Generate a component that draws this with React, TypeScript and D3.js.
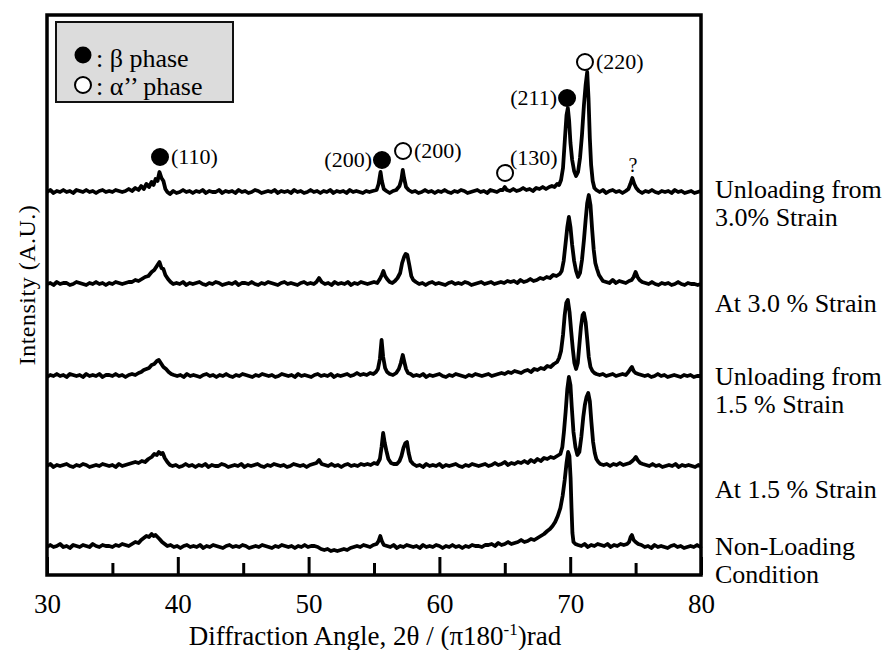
import React, { useEffect, useRef } from 'react';
import * as d3 from 'd3';

type Pt = [number, number];

// uniform 0.25 deg runs of read-off intensities
const run = (start: number, vals: number[]): Pt[] => vals.map((v, i) => [start + i * 0.25, v]);

const unload30: Pt[] = [
  ...run(30, [1, 3, 0, 2, 1, 3, 1, 2, 0, 3, 2, 1, 3, 1, 2, 0, 2, 3, 1, 2, 1, 3, 2, 1]),
  [36, 2], [36.25, 4], [36.5, 2], [36.75, 5], [37, 3], [37.2, 7], [37.4, 4], [37.6, 9], [37.8, 6], [38, 11], [38.15, 8],
  [38.3, 14], [38.45, 12], [38.6, 21], [38.75, 15], [38.9, 12], [39.05, 4], [39.2, 1], [39.4, -1],
  ...run(39.65, [2, 0, 1, 3, 1, 2, 0, 2, 1, 3, 0, 2, 1, 1, 3, 0, 2, 1, 2, 0, 3, 1, 2, 0, 1, 3, 2, 0, 1, 2, 1, 3, 0, 2, 1, 2, 0, 3, 1, 2, 0, 1, 3, 1, 2, 0, 2, 1, 3, 0, 2, 1, 2, 0, 3, 1, 2, 1, 0, 2, 1, 2]),
  [55.2, 3], [55.35, 9], [55.5, 21], [55.6, 12], [55.75, 4], [55.95, 2], [56.2, 0], [56.45, 2], [56.7, 3], [56.95, 7],
  [57.1, 14], [57.2, 23], [57.3, 15], [57.45, 6], [57.65, 3], [57.9, 1],
  ...run(58.15, [2, 0, 1, 3, 1, 2, 0, 2, 1, 3, 1, 0, 2, 1, 3, 2, 0, 1, 2, 3, 1, 2, 0, 3, 2, 1, 3]),
  [64.85, 3], [65.0, 6], [65.15, 3],
  ...run(65.4, [2, 4, 2, 3, 5, 3, 4, 2, 5, 4, 6, 4, 6]),
  [68.6, 7], [68.8, 6], [69.0, 9], [69.15, 8], [69.3, 13], [69.45, 25], [69.6, 55], [69.72, 78], [69.82, 85], [69.92, 72],
  [70.02, 50], [70.15, 33], [70.3, 22], [70.45, 17], [70.6, 21], [70.75, 35], [70.9, 58], [71.05, 88], [71.18, 108],
  [71.3, 121], [71.4, 95], [71.5, 55], [71.6, 28], [71.72, 12], [71.85, 5], [72.0, 3],
  ...run(72.25, [1, 3, 0, 2, 3, 1, 2, 0, 2]),
  [74.45, 4], [74.6, 9], [74.75, 15], [74.9, 9], [75.05, 5], [75.25, 2],
  ...run(75.5, [0, 2, 1, 3, 1, 0, 2, 1, 2, 0, 3, 1, 2, 0, 1, 2, 0, 1, 2]),
];

const at30: Pt[] = [
  ...run(30, [1, 2, 0, 3, 1, 2, 2, 0, 1, 3, 2, 1, 0, 2, 1, 3, 1, 2, 0, 2, 1, 3, 2, 1, 2, 3]),
  [36.5, 3], [36.75, 5], [37, 4], [37.25, 6], [37.5, 8], [37.75, 9], [38, 13], [38.2, 15], [38.4, 19], [38.6, 23],
  [38.75, 17], [38.9, 16], [39.05, 10], [39.25, 6], [39.45, 3], [39.65, 1],
  ...run(39.9, [2, 1, 3, 0, 2, 1, 2, 3, 1, 0, 2, 1, 3, 2, 0, 1, 2, 1, 3, 0, 2, 2, 1, 3, 1, 0, 2, 1, 3, 2, 1, 0, 2, 3, 1, 2, 1, 0, 2, 3, 1, 2, 1]),
  [50.6, 3], [50.8, 7], [51.0, 3],
  ...run(51.25, [1, 2, 0, 3, 1, 2, 1, 3, 0, 2, 1, 3, 2, 1, 2, 3, 2]),
  [55.45, 6], [55.6, 10], [55.72, 14], [55.85, 9], [56.0, 6], [56.2, 3], [56.4, 2], [56.6, 4], [56.8, 7], [57.0, 12],
  [57.15, 22], [57.3, 28], [57.42, 31], [57.55, 30], [57.7, 20], [57.85, 9], [58.0, 5], [58.2, 3],
  ...run(58.45, [1, 2, 0, 2, 3, 1, 2, 1, 0, 2, 3, 1, 2, 1, 3, 2, 0, 1, 2, 3, 1, 2, 3, 1, 2, 3, 2, 4]),
  ...run(65.45, [3, 4, 2, 5, 3, 4, 6, 4, 5, 7, 6, 8, 7, 10, 9, 11]),
  [69.35, 14], [69.5, 24], [69.65, 42], [69.78, 58], [69.9, 68], [70.02, 58], [70.15, 40], [70.3, 24], [70.45, 14],
  [70.6, 8], [70.75, 12], [70.9, 25], [71.05, 45], [71.18, 65], [71.3, 82], [71.42, 90], [71.55, 80], [71.68, 55],
  [71.8, 35], [71.92, 22], [72.05, 16], [72.2, 10], [72.35, 7], [72.5, 4],
  ...run(72.75, [3, 2, 5, 2, 4, 3, 2, 4]),
  [74.7, 5], [74.85, 8], [75.0, 13], [75.15, 8], [75.3, 5], [75.5, 3],
  ...run(75.75, [2, 1, 3, 1, 0, 2, 1, 2, 0, 1, 3, 1, 0, 2, 1, 1, 0, 1]),
];

const unload15: Pt[] = [
  ...run(30, [0, 2, 1, 3, 1, 2, 0, 3, 2, 1, 2, 0, 3, 1, 2, 1, 3, 0, 2, 2, 1, 3, 1, 2, 0, 2, 3, 2]),
  [37, 4], [37.2, 5], [37.4, 7], [37.6, 8], [37.8, 9], [38, 12], [38.2, 13], [38.4, 16], [38.55, 17], [38.7, 14],
  [38.9, 10], [39.1, 8], [39.3, 5], [39.5, 3], [39.7, 2],
  ...run(39.95, [1, 2, 0, 3, 1, 2, 1, 0, 2, 3, 1, 2, 0, 2, 1, 3, 1, 0, 2, 1, 3, 2, 1, 0, 2, 1, 3, 2, 1, 2, 0, 1, 3, 2, 1, 2, 0, 3, 1, 2, 1, 0, 2, 3, 1, 2, 1, 3, 0, 2, 1, 2, 3, 1, 2, 4, 2, 3, 2, 4, 3]),
  [55.15, 5], [55.3, 8], [55.45, 18], [55.58, 37], [55.7, 20], [55.85, 9], [56.0, 5], [56.2, 3], [56.45, 2], [56.7, 4],
  [56.9, 8], [57.05, 14], [57.2, 22], [57.32, 15], [57.45, 8], [57.6, 4], [57.8, 3], [58.0, 1],
  ...run(58.25, [2, 1, 3, 0, 2, 1, 2, 3, 1, 0, 2, 1, 3, 2, 1, 0, 2, 1, 3, 2, 1, 2, 3, 1, 2]),
  ...run(64.5, [3, 4, 3, 5, 4, 6, 5, 4, 6, 7, 5, 8, 7, 9, 8, 11, 10, 13, 15]),
  [69.15, 19], [69.3, 26], [69.45, 42], [69.58, 62], [69.7, 74], [69.82, 77], [69.95, 65], [70.08, 45], [70.2, 28],
  [70.32, 14], [70.45, 8], [70.58, 14], [70.7, 32], [70.82, 50], [70.95, 62], [71.05, 64], [71.18, 55], [71.3, 38],
  [71.42, 20], [71.55, 10], [71.7, 6], [71.85, 4], [72.0, 3],
  ...run(72.25, [2, 3, 1, 2, 3, 1, 2, 3, 2]),
  [74.45, 5], [74.6, 8], [74.72, 10], [74.85, 6], [75.0, 4], [75.2, 3],
  ...run(75.45, [2, 1, 2, 0, 1, 3, 1, 2, 0, 1, 2, 1, 0, 2, 1, 2, 0, 1, 1]),
  [80, 1],
];

const at15: Pt[] = [
  ...run(30, [1, 3, 0, 2, 1, 2, 3, 1, 0, 2, 1, 3, 2, 0, 1, 2, 1, 3, 2, 1, 2, 0, 3, 1, 2, 3, 4]),
  [36.75, 5], [37, 4], [37.25, 6], [37.5, 5], [37.75, 8], [38, 10], [38.2, 13], [38.4, 12], [38.55, 15], [38.7, 13],
  [38.85, 14], [39.0, 9], [39.2, 5], [39.4, 2], [39.6, 1],
  ...run(39.85, [2, 0, 1, 3, 1, 2, 0, 2, 1, 3, 0, 2, 1, 1, 3, 2, 0, 1, 2, 1, 3, 0, 2, 1, 2, 3, 1, 0, 2, 1, 3, 2, 1, 2, 0, 1, 3, 2, 1, 2, 0, 2, 3]),
  [50.6, 4], [50.8, 7], [51.0, 3],
  ...run(51.25, [2, 1, 3, 1, 2, 0, 2, 3, 1, 2, 1, 3, 2, 3, 2, 4, 3]),
  [55.45, 8], [55.58, 20], [55.7, 34], [55.82, 24], [55.95, 16], [56.1, 8], [56.3, 4], [56.5, 3], [56.75, 3],
  [56.95, 6], [57.1, 11], [57.25, 19], [57.4, 24], [57.52, 25], [57.65, 14], [57.8, 6], [58.0, 3],
  ...run(58.25, [1, 2, 0, 3, 1, 2, 1, 3, 0, 2, 1, 2, 3, 1, 0, 2, 1, 3, 2, 1, 2, 3, 1, 2, 4, 2, 3, 5, 2, 4, 3, 5, 4, 6, 4, 7, 5]),
  ...run(67.5, [8, 6, 9, 8, 10, 9, 11, 13]),
  [69.4, 20], [69.52, 35], [69.65, 55], [69.78, 78], [69.9, 90], [70.02, 82], [70.12, 60], [70.25, 35], [70.4, 20],
  [70.55, 12], [70.7, 15], [70.85, 30], [71.0, 50], [71.12, 62], [71.25, 70], [71.38, 74], [71.5, 66], [71.62, 45],
  [71.75, 25], [71.88, 14], [72.0, 8], [72.15, 5], [72.3, 3],
  ...run(72.55, [2, 3, 1, 3, 2, 4, 2, 3, 4]),
  [74.75, 6], [74.9, 8], [75.02, 10], [75.15, 7], [75.35, 4], [75.55, 3],
  ...run(75.8, [2, 1, 3, 1, 2, 0, 1, 2, 1, 3, 0, 2, 1, 2, 1, 0, 2]),
  [80, 1],
];

const nonLoad: Pt[] = [
  ...run(30, [1, 3, 1, 2, 4, 1, 2, 0, 3, 2, 1, 3, 2, 1, 4, 2, 1, 3, 2, 2, 1, 3, 2, 4, 3, 2, 4]),
  [36.75, 6], [37, 5], [37.2, 8], [37.4, 10], [37.6, 12], [37.8, 11], [38, 14], [38.15, 12], [38.3, 13], [38.45, 11],
  [38.6, 9], [38.8, 6], [39.0, 4], [39.2, 2], [39.45, 3],
  ...run(39.7, [1, 2, 0, 2, 3, 1, 2, 1, 3, 0, 2, 1, 3, 2, 1, 0, 2, 3, 1, 2, 1, 3, 2, 0, 1, 2, 1, 3, 2, 1, 0, 2, 1, 3, 2, 1, 2, 0, 2, 1, 3, 1, 2, 2, 1]),
  ...run(50.95, [-1, -2, -1, -3, -2, -3, -2, -1, -2, 0, 1]),
  ...run(53.7, [2, 1, 3, 2, 1, 3, 4]),
  [55.35, 7], [55.48, 12], [55.6, 7], [55.75, 3], [56.0, 2],
  ...run(56.25, [1, 3, 0, 2, 1, 3, 2, 1, 2, 0, 3, 1, 2, 1, 3, 2, 0, 2, 1, 3, 1, 2, 0, 2, 1, 3, 2, 2, 1, 3]),
  ...run(63.75, [3, 4, 2, 5, 3, 4, 6, 4, 5, 6, 8, 6, 7, 9, 8, 10, 12, 14, 17]),
  [68.45, 19], [68.65, 22], [68.85, 26], [69.05, 32], [69.25, 40], [69.42, 52], [69.58, 68], [69.72, 85], [69.84, 96],
  [69.94, 92], [70.03, 70], [70.1, 40], [70.17, 15], [70.25, 6], [70.4, 4], [70.6, 3],
  ...run(70.85, [2, 4, 1, 3, 2, 4, 3, 2, 4, 1, 3, 2, 4, 3, 4]),
  [74.5, 6], [74.62, 11], [74.72, 13], [74.85, 8], [75.0, 6], [75.2, 4],
  ...run(75.45, [3, 1, 2, 0, 3, 1, 2, 1, 0, 2, 3, 1, 2, 0, 1, 2, 1, 3, 1]),
  [80, 2],
];

const traces = [
  { data: unload30, offset: 382, label: ['Unloading from', '3.0% Strain'] },
  { data: at30, offset: 290, label: ['At 3.0 % Strain'] },
  { data: unload15, offset: 198, label: ['Unloading from', '1.5 % Strain'] },
  { data: at15, offset: 108, label: ['At 1.5 % Strain'] },
  { data: nonLoad, offset: 27, label: ['Non-Loading', 'Condition'] },
];

// label baselines (in A.U. units of the y scale)
const labelLevels = [377, 263, 190, 77, 20];

const majorTicks = [30, 40, 50, 60, 70, 80];
const minorTicks = [35, 45, 55, 65, 75];

// peak markers: angle, level, filled, label, side
const markers = [
  { a: 38.64, v: 418, filled: true, text: '(110)', side: 'right' },
  { a: 55.61, v: 415, filled: true, text: '(200)', side: 'left' },
  { a: 57.22, v: 424, filled: false, text: '(200)', side: 'right' },
  { a: 65.02, v: 402, filled: false, text: '(130)', side: 'upright' },
  { a: 69.76, v: 477, filled: true, text: '(211)', side: 'left' },
  { a: 71.13, v: 513, filled: false, text: '(220)', side: 'right' },
];
const questionMark = { a: 74.8, v: 403 };

const FONT = "'Liberation Serif', 'Times New Roman', serif";

const App: React.FC = () => {
  const axisRef = useRef<SVGGElement>(null);

  const width = 894;
  const height = 650;
  const x = d3.scaleLinear().domain([30, 80]).range([47, 701]);
  const y = d3.scaleLinear().domain([0, 560]).range([575, 15]);

  useEffect(() => {
    if (!axisRef.current) return;
    const g = d3.select(axisRef.current);
    g.selectAll('*').remove();

    const major = g.append('g').call(
      d3.axisBottom(x).tickValues(majorTicks).tickSize(-18).tickPadding(19).tickFormat(d3.format('d'))
    );
    const minor = g.append('g').call(
      d3.axisBottom(x).tickValues(minorTicks).tickSize(-12).tickFormat(() => '')
    );
    [major, minor].forEach((ax) => {
      ax.select('.domain').remove();
      ax.selectAll('line').attr('stroke', '#000').attr('stroke-width', 3);
    });
    major.selectAll('text').attr('font-family', FONT).attr('font-size', 27).attr('fill', '#000');
  }, []);

  return (
    <svg width={width} height={height} style={{ position: 'absolute', left: 0, top: 0, background: '#fff' }}>
      <rect width={width} height={height} fill="#fff" />
      {traces.map((t, i) => {
        const line = d3
          .line<Pt>()
          .x((d) => x(d[0]))
          .y((d) => y(d[1] + t.offset));
        return (
          <path key={i} d={line(t.data) || ''} fill="none" stroke="#000" strokeWidth={3.8} strokeLinejoin="round" />
        );
      })}

      <g ref={axisRef} transform={`translate(0,575)`} />

      <rect x={47} y={15} width={654} height={560} fill="none" stroke="#000" strokeWidth={3.5} />

      {/* legend */}
      <rect x={56} y={22} width={177} height={80} fill="#dcdcdc" stroke="#111" strokeWidth={2} />
      <circle cx={83} cy={55} r={8.5} fill="#000" />
      <text x={96} y={67} fontFamily={FONT} fontSize={26}>: β phase</text>
      <circle cx={83} cy={85} r={8} fill="#fff" stroke="#000" strokeWidth={2} />
      <text x={96} y={95} fontFamily={FONT} fontSize={26}>: α’’ phase</text>

      {/* peak markers */}
      {markers.map((m, i) => {
        const cx = x(m.a);
        const cy = y(m.v);
        let tx = cx + 11;
        let ty = cy + 7;
        let anchor = 'start';
        if (m.side === 'left') {
          tx = cx - 10;
          anchor = 'end';
        } else if (m.side === 'upright') {
          tx = cx + 5;
          ty = cy - 8;
        }
        return (
          <g key={i}>
            <circle cx={cx} cy={cy} r={8} fill={m.filled ? '#000' : '#fff'} stroke="#000" strokeWidth={2} />
            <text x={tx} y={ty} textAnchor={anchor} fontFamily={FONT} fontSize={22}>
              {m.text}
            </text>
          </g>
        );
      })}
      <text x={x(questionMark.a)} y={y(questionMark.v)} textAnchor="middle" fontFamily={FONT} fontSize={20}>
        ?
      </text>

      {/* condition labels */}
      {traces.map((t, i) => (
        <text key={i} x={715} y={y(labelLevels[i])} fontFamily={FONT} fontSize={26}>
          {t.label.map((s, j) => (
            <tspan key={j} x={715} dy={j === 0 ? 0 : 28}>
              {s}
            </tspan>
          ))}
        </text>
      ))}

      {/* axis titles */}
      <text x={375} y={645} textAnchor="middle" fontFamily={FONT} fontSize={27}>
        Diffraction Angle, 2θ / (π180
        <tspan dy={-10} fontSize={17}>-1</tspan>
        <tspan dy={10}>)rad</tspan>
      </text>
      <text
        transform={`translate(35,285) rotate(-90)`}
        textAnchor="middle"
        fontFamily={FONT}
        fontSize={24}
        letterSpacing={0.5}
      >
        Intensity  (A.U.)
      </text>
    </svg>
  );
};

export default App;
